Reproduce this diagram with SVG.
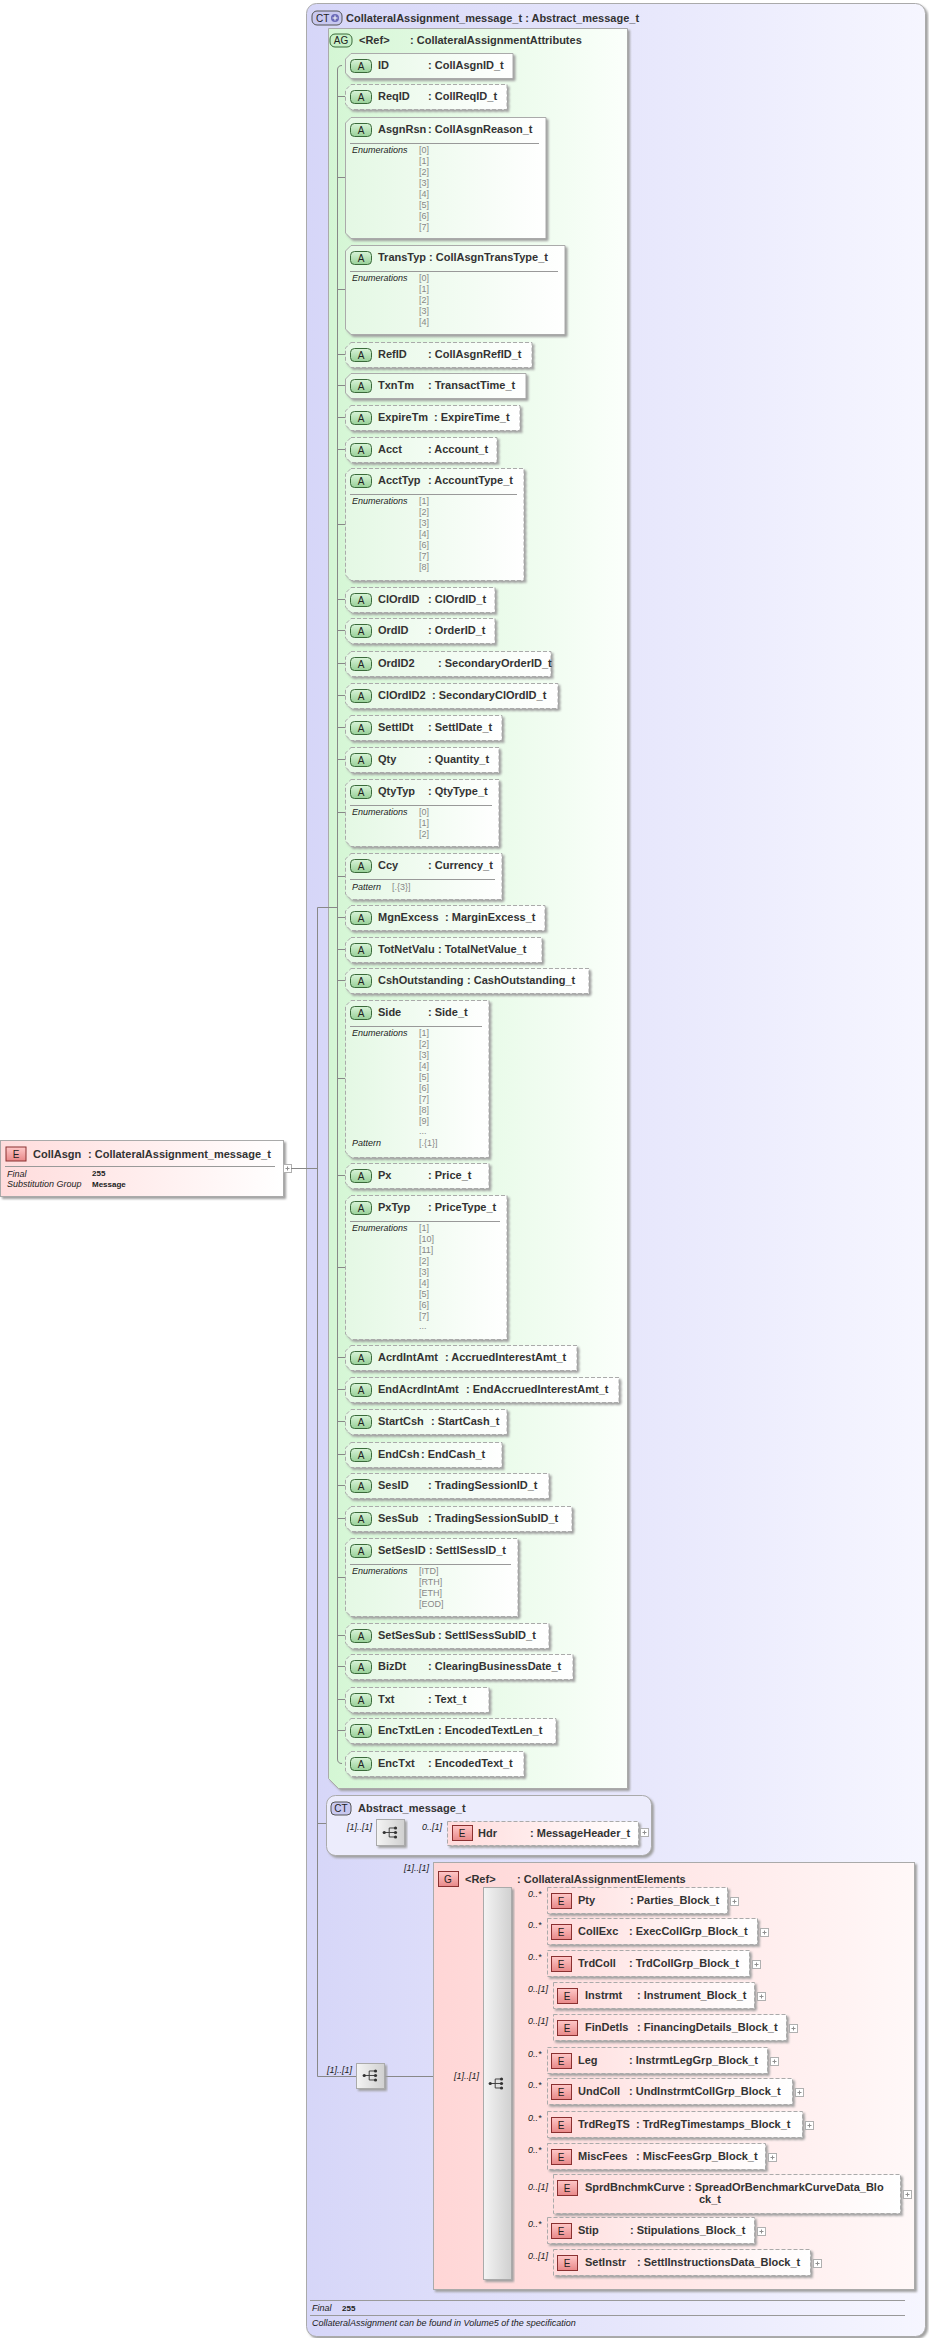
<svg xmlns="http://www.w3.org/2000/svg" width="929" height="2338" viewBox="0 0 929 2338">
<defs>
<linearGradient id="gCT" x1="0" x2="1" y1="0" y2="0"><stop offset="0" stop-color="#d6d6f8"/><stop offset="1" stop-color="#f6f6ff"/></linearGradient>
<linearGradient id="gAG" x1="0" x2="1" y1="0" y2="0"><stop offset="0" stop-color="#d4f6d4"/><stop offset="1" stop-color="#fbfffb"/></linearGradient>
<linearGradient id="gA" x1="0" x2="1" y1="0" y2="0"><stop offset="0" stop-color="#e4f8e4"/><stop offset="1" stop-color="#ffffff"/></linearGradient>
<linearGradient id="gG" x1="0" x2="1" y1="0" y2="0"><stop offset="0" stop-color="#ffd6d6"/><stop offset="1" stop-color="#fff8f8"/></linearGradient>
<linearGradient id="gE" x1="0" x2="1" y1="0" y2="0"><stop offset="0" stop-color="#ffdcdc"/><stop offset="1" stop-color="#ffffff"/></linearGradient>
<linearGradient id="gS" x1="0" x2="1" y1="0" y2="0"><stop offset="0" stop-color="#f4f4f4"/><stop offset="1" stop-color="#d0d0d0"/></linearGradient>
<linearGradient id="gBadgeA" x1="0" x2="0" y1="0" y2="1"><stop offset="0" stop-color="#d8f4d8"/><stop offset="1" stop-color="#98d098"/></linearGradient>
<linearGradient id="gBadgeE" x1="0" x2="0" y1="0" y2="1"><stop offset="0" stop-color="#ffc8c8"/><stop offset="1" stop-color="#e88888"/></linearGradient>
<filter id="ds" x="-5%" y="-5%" width="115%" height="130%"><feDropShadow dx="2" dy="2" stdDeviation="0.8" flood-color="#a0a0a0"/></filter>
<symbol id="seqIcon" viewBox="0 0 20 14"><path d="M2,7H8M8,2V12M8,2H14M8,7H14M8,12H14" stroke="#333" fill="none" stroke-width="1"/><circle cx="2.5" cy="7" r="1.8" fill="#333"/><circle cx="15" cy="2" r="1.8" fill="#333"/><circle cx="15" cy="7" r="1.8" fill="#333"/><circle cx="15" cy="12" r="1.8" fill="#333"/></symbol>
<g id="plus"><rect x="0" y="0" width="8" height="8" fill="#fff" stroke="#b0b0b0"/><path d="M2,4H6M4,2V6" stroke="#909090"/></g>
</defs>
<style>
text{font-family:"Liberation Sans",Arial,sans-serif;fill:#333}
.b{font-size:11px;font-weight:bold}
.bd{font-size:10px;font-weight:bold;fill:#444}
.it{font-size:9px;font-style:italic;fill:#222}
.val{font-size:9px;fill:#888}
.sm{font-size:8px;font-weight:bold;fill:#222}
.ab{fill:url(#gA);stroke:#aaa;filter:url(#ds)}
.ab.d{stroke-dasharray:4,2}
.eb{fill:url(#gE);stroke:#aaa;filter:url(#ds);stroke-dasharray:4,2}
.sep{stroke:#999;stroke-width:1}
.bA{fill:url(#gBadgeA);stroke:#3a6a3a}
.bE{fill:url(#gBadgeE);stroke:#8a3030}
.bT{font-size:10px;fill:#222;text-anchor:middle}
.cn{stroke:#888;fill:none;stroke-width:1}
.mult{font-size:9px;font-style:italic;fill:#222}
.seq{fill:url(#gS);stroke:#aaa;filter:url(#ds)}
</style>

<!-- outer complex type -->
<g id="ct-main">
<rect x="306.5" y="3.5" width="619" height="2333" rx="10" fill="url(#gCT)" stroke="#aaa" filter="url(#ds)"/>
<rect x="312" y="11" width="30" height="14" rx="5" fill="#c8c8f0" stroke="#555"/>
<text x="316" y="22" style="font-size:10px;fill:#222">CT</text>
<circle cx="335" cy="18" r="4" fill="#6a6ab8"/><path d="M332.5,18H337.5M335,15.5V20.5" stroke="#fff"/>
<text class="b" x="346" y="22">CollateralAssignment_message_t : Abstract_message_t</text>
<line x1="310" y1="2300.5" x2="905" y2="2300.5" class="sep"/>
<text class="it" x="312" y="2311">Final</text><text class="sm" x="342" y="2311">255</text>
<line x1="310" y1="2315.5" x2="905" y2="2315.5" class="sep"/>
<text class="it" x="312" y="2326">CollateralAssignment can be found in Volume5 of the specification</text>
</g>

<!-- root element -->
<g id="el-CollAsgn">
<rect x="0.5" y="1140.5" width="283" height="56" fill="url(#gE)" stroke="#aaa" filter="url(#ds)"/>
<rect x="6" y="1147" width="20" height="14" class="bE"/><text class="bT" x="16" y="1158">E</text>
<text class="b" x="33" y="1158">CollAsgn</text><text class="b" x="88" y="1158">: CollateralAssignment_message_t</text>
<line x1="5" y1="1166.5" x2="275" y2="1166.5" class="sep"/>
<text class="it" x="7" y="1177">Final</text><text class="sm" x="92" y="1176">255</text>
<text class="it" x="7" y="1187">Substitution Group</text><text class="sm" x="92" y="1187">Message</text>
<use href="#plus" x="283.5" y="1164.5"/>
</g>

<!-- attribute group -->
<g id="ag-attrs">
<path d="M328.5,28.5H627.5V1788.5H338.5L328.5,1778.5Z" fill="url(#gAG)" stroke="#aaa" filter="url(#ds)"/>
<rect x="330" y="34" width="22" height="13" rx="5" fill="#c8f0c8" stroke="#3a6a3a"/><text class="bT" x="341" y="44">AG</text>
<text class="b" x="359" y="44">&lt;Ref&gt;</text><text class="b" x="410" y="44">: CollateralAssignmentAttributes</text>
</g>

<!-- connectors -->
<g id="connectors" class="cn">
<path d="M291,1168.5H317.5"/>
<path d="M317.5,907.5V2076.5"/>
<path d="M317.5,907.5H337.5"/>
<path d="M317.5,1823.5H326"/>
<path d="M317.5,2076.5H356"/>
<path d="M342,65.5Q337.5,65.5 337.5,70V1759Q337.5,1763.5 342,1763.5"/>
<path d="M337.5,96.5H345M337.5,177.5H345M337.5,289.5H345M337.5,354.5H345M337.5,385.5H345M337.5,417.5H345M337.5,449.5H345M337.5,524.5H345M337.5,599.5H345M337.5,630.5H345M337.5,663.5H345M337.5,695.5H345M337.5,727.5H345M337.5,759.5H345M337.5,812.5H345M337.5,876.5H345M337.5,917.5H345M337.5,949.5H345M337.5,980.5H345M337.5,1078.5H345M337.5,1175.5H345M337.5,1267.5H345M337.5,1357.5H345M337.5,1389.5H345M337.5,1421.5H345M337.5,1454.5H345M337.5,1485.5H345M337.5,1518.5H345M337.5,1577.5H345M337.5,1635.5H345M337.5,1666.5H345M337.5,1699.5H345M337.5,1730.5H345"/>
<path d="M326,1833.5H376M405,1833.5H447"/>
<path d="M385,2076.5H433M433,2083.5H483"/>
<path d="M512,1900.5H547M512,1931.5H547M512,1963.5H547M512,1995.5H553M512,2027.5H553M512,2060.5H547M512,2091.5H547M512,2124.5H547M512,2156.5H547M512,2193.5H553M512,2230.5H547M512,2262.5H553"/>
</g>

<g id="attrs">
<g id="a-ID"><polygon class="ab" points="351,53.5 513,53.5 513,78.5 351,78.5 345.5,73 345.5,59"/><rect class="bA" x="350.5" y="59.5" width="21" height="13" rx="4"/><text class="bT" x="361" y="70">A</text><text class="b" x="378" y="69">ID</text><text class="b" x="428" y="69">: CollAsgnID_t</text></g>
<g id="a-ReqID"><polygon class="ab d" points="351,84.5 507,84.5 507,109.5 351,109.5 345.5,104 345.5,90"/><rect class="bA" x="350.5" y="90.5" width="21" height="13" rx="4"/><text class="bT" x="361" y="101">A</text><text class="b" x="378" y="100">ReqID</text><text class="b" x="428" y="100">: CollReqID_t</text></g>
<g id="a-AsgnRsn"><polygon class="ab" points="351,117.5 546,117.5 546,238.5 351,238.5 345.5,233 345.5,123"/><rect class="bA" x="350.5" y="123.5" width="21" height="13" rx="4"/><text class="bT" x="361" y="134">A</text><text class="b" x="378" y="133">AsgnRsn</text><text class="b" x="428" y="133">: CollAsgnReason_t</text><line class="sep" x1="350" y1="143.5" x2="539" y2="143.5"/><text class="it" x="352" y="153">Enumerations</text><text class="val" x="419" y="153">[0]</text><text class="val" x="419" y="164">[1]</text><text class="val" x="419" y="175">[2]</text><text class="val" x="419" y="186">[3]</text><text class="val" x="419" y="197">[4]</text><text class="val" x="419" y="208">[5]</text><text class="val" x="419" y="219">[6]</text><text class="val" x="419" y="230">[7]</text></g>
<g id="a-TransTyp"><polygon class="ab" points="351,245.5 565,245.5 565,334.5 351,334.5 345.5,329 345.5,251"/><rect class="bA" x="350.5" y="251.5" width="21" height="13" rx="4"/><text class="bT" x="361" y="262">A</text><text class="b" x="378" y="261">TransTyp</text><text class="b" x="429" y="261">: CollAsgnTransType_t</text><line class="sep" x1="350" y1="271.5" x2="558" y2="271.5"/><text class="it" x="352" y="281">Enumerations</text><text class="val" x="419" y="281">[0]</text><text class="val" x="419" y="292">[1]</text><text class="val" x="419" y="303">[2]</text><text class="val" x="419" y="314">[3]</text><text class="val" x="419" y="325">[4]</text></g>
<g id="a-RefID"><polygon class="ab d" points="351,342.5 532,342.5 532,367.5 351,367.5 345.5,362 345.5,348"/><rect class="bA" x="350.5" y="348.5" width="21" height="13" rx="4"/><text class="bT" x="361" y="359">A</text><text class="b" x="378" y="358">RefID</text><text class="b" x="428" y="358">: CollAsgnRefID_t</text></g>
<g id="a-TxnTm"><polygon class="ab" points="351,373.5 526,373.5 526,398.5 351,398.5 345.5,393 345.5,379"/><rect class="bA" x="350.5" y="379.5" width="21" height="13" rx="4"/><text class="bT" x="361" y="390">A</text><text class="b" x="378" y="389">TxnTm</text><text class="b" x="428" y="389">: TransactTime_t</text></g>
<g id="a-ExpireTm"><polygon class="ab d" points="351,405.5 520,405.5 520,430.5 351,430.5 345.5,425 345.5,411"/><rect class="bA" x="350.5" y="411.5" width="21" height="13" rx="4"/><text class="bT" x="361" y="422">A</text><text class="b" x="378" y="421">ExpireTm</text><text class="b" x="434" y="421">: ExpireTime_t</text></g>
<g id="a-Acct"><polygon class="ab d" points="351,437.5 497,437.5 497,462.5 351,462.5 345.5,457 345.5,443"/><rect class="bA" x="350.5" y="443.5" width="21" height="13" rx="4"/><text class="bT" x="361" y="454">A</text><text class="b" x="378" y="453">Acct</text><text class="b" x="428" y="453">: Account_t</text></g>
<g id="a-AcctTyp"><polygon class="ab d" points="351,468.5 524,468.5 524,580.5 351,580.5 345.5,575 345.5,474"/><rect class="bA" x="350.5" y="474.5" width="21" height="13" rx="4"/><text class="bT" x="361" y="485">A</text><text class="b" x="378" y="484">AcctTyp</text><text class="b" x="428" y="484">: AccountType_t</text><line class="sep" x1="350" y1="494.5" x2="517" y2="494.5"/><text class="it" x="352" y="504">Enumerations</text><text class="val" x="419" y="504">[1]</text><text class="val" x="419" y="515">[2]</text><text class="val" x="419" y="526">[3]</text><text class="val" x="419" y="537">[4]</text><text class="val" x="419" y="548">[6]</text><text class="val" x="419" y="559">[7]</text><text class="val" x="419" y="570">[8]</text></g>
<g id="a-ClOrdID"><polygon class="ab d" points="351,587.5 495,587.5 495,612.5 351,612.5 345.5,607 345.5,593"/><rect class="bA" x="350.5" y="593.5" width="21" height="13" rx="4"/><text class="bT" x="361" y="604">A</text><text class="b" x="378" y="603">ClOrdID</text><text class="b" x="428" y="603">: ClOrdID_t</text></g>
<g id="a-OrdID"><polygon class="ab d" points="351,618.5 495,618.5 495,643.5 351,643.5 345.5,638 345.5,624"/><rect class="bA" x="350.5" y="624.5" width="21" height="13" rx="4"/><text class="bT" x="361" y="635">A</text><text class="b" x="378" y="634">OrdID</text><text class="b" x="428" y="634">: OrderID_t</text></g>
<g id="a-OrdID2"><polygon class="ab d" points="351,651.5 551,651.5 551,676.5 351,676.5 345.5,671 345.5,657"/><rect class="bA" x="350.5" y="657.5" width="21" height="13" rx="4"/><text class="bT" x="361" y="668">A</text><text class="b" x="378" y="667">OrdID2</text><text class="b" x="438" y="667">: SecondaryOrderID_t</text></g>
<g id="a-ClOrdID2"><polygon class="ab d" points="351,683.5 558,683.5 558,708.5 351,708.5 345.5,703 345.5,689"/><rect class="bA" x="350.5" y="689.5" width="21" height="13" rx="4"/><text class="bT" x="361" y="700">A</text><text class="b" x="378" y="699">ClOrdID2</text><text class="b" x="432" y="699">: SecondaryClOrdID_t</text></g>
<g id="a-SettlDt"><polygon class="ab d" points="351,715.5 502,715.5 502,740.5 351,740.5 345.5,735 345.5,721"/><rect class="bA" x="350.5" y="721.5" width="21" height="13" rx="4"/><text class="bT" x="361" y="732">A</text><text class="b" x="378" y="731">SettlDt</text><text class="b" x="428" y="731">: SettlDate_t</text></g>
<g id="a-Qty"><polygon class="ab d" points="351,747.5 499,747.5 499,772.5 351,772.5 345.5,767 345.5,753"/><rect class="bA" x="350.5" y="753.5" width="21" height="13" rx="4"/><text class="bT" x="361" y="764">A</text><text class="b" x="378" y="763">Qty</text><text class="b" x="428" y="763">: Quantity_t</text></g>
<g id="a-QtyTyp"><polygon class="ab d" points="351,779.5 499,779.5 499,846.5 351,846.5 345.5,841 345.5,785"/><rect class="bA" x="350.5" y="785.5" width="21" height="13" rx="4"/><text class="bT" x="361" y="796">A</text><text class="b" x="378" y="795">QtyTyp</text><text class="b" x="428" y="795">: QtyType_t</text><line class="sep" x1="350" y1="805.5" x2="492" y2="805.5"/><text class="it" x="352" y="815">Enumerations</text><text class="val" x="419" y="815">[0]</text><text class="val" x="419" y="826">[1]</text><text class="val" x="419" y="837">[2]</text></g>
<g id="a-Ccy"><polygon class="ab d" points="351,853.5 502,853.5 502,899.5 351,899.5 345.5,894 345.5,859"/><rect class="bA" x="350.5" y="859.5" width="21" height="13" rx="4"/><text class="bT" x="361" y="870">A</text><text class="b" x="378" y="869">Ccy</text><text class="b" x="428" y="869">: Currency_t</text><line class="sep" x1="350" y1="879.5" x2="495" y2="879.5"/><text class="it" x="352" y="890">Pattern</text><text class="val" x="392" y="890">[.{3}]</text></g>
<g id="a-MgnExcess"><polygon class="ab d" points="351,905.5 545,905.5 545,930.5 351,930.5 345.5,925 345.5,911"/><rect class="bA" x="350.5" y="911.5" width="21" height="13" rx="4"/><text class="bT" x="361" y="922">A</text><text class="b" x="378" y="921">MgnExcess</text><text class="b" x="445" y="921">: MarginExcess_t</text></g>
<g id="a-TotNetValu"><polygon class="ab d" points="351,937.5 542,937.5 542,962.5 351,962.5 345.5,957 345.5,943"/><rect class="bA" x="350.5" y="943.5" width="21" height="13" rx="4"/><text class="bT" x="361" y="954">A</text><text class="b" x="378" y="953">TotNetValu</text><text class="b" x="438" y="953">: TotalNetValue_t</text></g>
<g id="a-CshOutstanding"><polygon class="ab d" points="351,968.5 589,968.5 589,993.5 351,993.5 345.5,988 345.5,974"/><rect class="bA" x="350.5" y="974.5" width="21" height="13" rx="4"/><text class="bT" x="361" y="985">A</text><text class="b" x="378" y="984">CshOutstanding</text><text class="b" x="467" y="984">: CashOutstanding_t</text></g>
<g id="a-Side"><polygon class="ab d" points="351,1000.5 489,1000.5 489,1157.5 351,1157.5 345.5,1152 345.5,1006"/><rect class="bA" x="350.5" y="1006.5" width="21" height="13" rx="4"/><text class="bT" x="361" y="1017">A</text><text class="b" x="378" y="1016">Side</text><text class="b" x="428" y="1016">: Side_t</text><line class="sep" x1="350" y1="1026.5" x2="482" y2="1026.5"/><text class="it" x="352" y="1036">Enumerations</text><text class="val" x="419" y="1036">[1]</text><text class="val" x="419" y="1047">[2]</text><text class="val" x="419" y="1058">[3]</text><text class="val" x="419" y="1069">[4]</text><text class="val" x="419" y="1080">[5]</text><text class="val" x="419" y="1091">[6]</text><text class="val" x="419" y="1102">[7]</text><text class="val" x="419" y="1113">[8]</text><text class="val" x="419" y="1124">[9]</text><text class="val" x="419" y="1134">...</text><text class="it" x="352" y="1146">Pattern</text><text class="val" x="419" y="1146">[.{1}]</text></g>
<g id="a-Px"><polygon class="ab d" points="351,1163.5 489,1163.5 489,1188.5 351,1188.5 345.5,1183 345.5,1169"/><rect class="bA" x="350.5" y="1169.5" width="21" height="13" rx="4"/><text class="bT" x="361" y="1180">A</text><text class="b" x="378" y="1179">Px</text><text class="b" x="428" y="1179">: Price_t</text></g>
<g id="a-PxTyp"><polygon class="ab d" points="351,1195.5 507,1195.5 507,1339.5 351,1339.5 345.5,1334 345.5,1201"/><rect class="bA" x="350.5" y="1201.5" width="21" height="13" rx="4"/><text class="bT" x="361" y="1212">A</text><text class="b" x="378" y="1211">PxTyp</text><text class="b" x="428" y="1211">: PriceType_t</text><line class="sep" x1="350" y1="1221.5" x2="500" y2="1221.5"/><text class="it" x="352" y="1231">Enumerations</text><text class="val" x="419" y="1231">[1]</text><text class="val" x="419" y="1242">[10]</text><text class="val" x="419" y="1253">[11]</text><text class="val" x="419" y="1264">[2]</text><text class="val" x="419" y="1275">[3]</text><text class="val" x="419" y="1286">[4]</text><text class="val" x="419" y="1297">[5]</text><text class="val" x="419" y="1308">[6]</text><text class="val" x="419" y="1319">[7]</text><text class="val" x="419" y="1329">...</text></g>
<g id="a-AcrdIntAmt"><polygon class="ab d" points="351,1345.5 577,1345.5 577,1370.5 351,1370.5 345.5,1365 345.5,1351"/><rect class="bA" x="350.5" y="1351.5" width="21" height="13" rx="4"/><text class="bT" x="361" y="1362">A</text><text class="b" x="378" y="1361">AcrdIntAmt</text><text class="b" x="445" y="1361">: AccruedInterestAmt_t</text></g>
<g id="a-EndAcrdIntAmt"><polygon class="ab d" points="351,1377.5 619,1377.5 619,1402.5 351,1402.5 345.5,1397 345.5,1383"/><rect class="bA" x="350.5" y="1383.5" width="21" height="13" rx="4"/><text class="bT" x="361" y="1394">A</text><text class="b" x="378" y="1393">EndAcrdIntAmt</text><text class="b" x="466" y="1393">: EndAccruedInterestAmt_t</text></g>
<g id="a-StartCsh"><polygon class="ab d" points="351,1409.5 507,1409.5 507,1434.5 351,1434.5 345.5,1429 345.5,1415"/><rect class="bA" x="350.5" y="1415.5" width="21" height="13" rx="4"/><text class="bT" x="361" y="1426">A</text><text class="b" x="378" y="1425">StartCsh</text><text class="b" x="431" y="1425">: StartCash_t</text></g>
<g id="a-EndCsh"><polygon class="ab d" points="351,1442.5 502,1442.5 502,1467.5 351,1467.5 345.5,1462 345.5,1448"/><rect class="bA" x="350.5" y="1448.5" width="21" height="13" rx="4"/><text class="bT" x="361" y="1459">A</text><text class="b" x="378" y="1458">EndCsh</text><text class="b" x="421" y="1458">: EndCash_t</text></g>
<g id="a-SesID"><polygon class="ab d" points="351,1473.5 549,1473.5 549,1498.5 351,1498.5 345.5,1493 345.5,1479"/><rect class="bA" x="350.5" y="1479.5" width="21" height="13" rx="4"/><text class="bT" x="361" y="1490">A</text><text class="b" x="378" y="1489">SesID</text><text class="b" x="428" y="1489">: TradingSessionID_t</text></g>
<g id="a-SesSub"><polygon class="ab d" points="351,1506.5 572,1506.5 572,1531.5 351,1531.5 345.5,1526 345.5,1512"/><rect class="bA" x="350.5" y="1512.5" width="21" height="13" rx="4"/><text class="bT" x="361" y="1523">A</text><text class="b" x="378" y="1522">SesSub</text><text class="b" x="428" y="1522">: TradingSessionSubID_t</text></g>
<g id="a-SetSesID"><polygon class="ab d" points="351,1538.5 518,1538.5 518,1616.5 351,1616.5 345.5,1611 345.5,1544"/><rect class="bA" x="350.5" y="1544.5" width="21" height="13" rx="4"/><text class="bT" x="361" y="1555">A</text><text class="b" x="378" y="1554">SetSesID</text><text class="b" x="429" y="1554">: SettlSessID_t</text><line class="sep" x1="350" y1="1564.5" x2="511" y2="1564.5"/><text class="it" x="352" y="1574">Enumerations</text><text class="val" x="419" y="1574">[ITD]</text><text class="val" x="419" y="1585">[RTH]</text><text class="val" x="419" y="1596">[ETH]</text><text class="val" x="419" y="1607">[EOD]</text></g>
<g id="a-SetSesSub"><polygon class="ab d" points="351,1623.5 549,1623.5 549,1648.5 351,1648.5 345.5,1643 345.5,1629"/><rect class="bA" x="350.5" y="1629.5" width="21" height="13" rx="4"/><text class="bT" x="361" y="1640">A</text><text class="b" x="378" y="1639">SetSesSub</text><text class="b" x="438" y="1639">: SettlSessSubID_t</text></g>
<g id="a-BizDt"><polygon class="ab d" points="351,1654.5 573,1654.5 573,1679.5 351,1679.5 345.5,1674 345.5,1660"/><rect class="bA" x="350.5" y="1660.5" width="21" height="13" rx="4"/><text class="bT" x="361" y="1671">A</text><text class="b" x="378" y="1670">BizDt</text><text class="b" x="428" y="1670">: ClearingBusinessDate_t</text></g>
<g id="a-Txt"><polygon class="ab d" points="351,1687.5 489,1687.5 489,1712.5 351,1712.5 345.5,1707 345.5,1693"/><rect class="bA" x="350.5" y="1693.5" width="21" height="13" rx="4"/><text class="bT" x="361" y="1704">A</text><text class="b" x="378" y="1703">Txt</text><text class="b" x="428" y="1703">: Text_t</text></g>
<g id="a-EncTxtLen"><polygon class="ab d" points="351,1718.5 556,1718.5 556,1743.5 351,1743.5 345.5,1738 345.5,1724"/><rect class="bA" x="350.5" y="1724.5" width="21" height="13" rx="4"/><text class="bT" x="361" y="1735">A</text><text class="b" x="378" y="1734">EncTxtLen</text><text class="b" x="438" y="1734">: EncodedTextLen_t</text></g>
<g id="a-EncTxt"><polygon class="ab d" points="351,1751.5 524,1751.5 524,1776.5 351,1776.5 345.5,1771 345.5,1757"/><rect class="bA" x="350.5" y="1757.5" width="21" height="13" rx="4"/><text class="bT" x="361" y="1768">A</text><text class="b" x="378" y="1767">EncTxt</text><text class="b" x="428" y="1767">: EncodedText_t</text></g>
</g>

<!-- Abstract_message_t -->
<g id="ct-abstract">
<rect x="326.5" y="1795.5" width="325" height="60" rx="9" fill="#ececfc" stroke="#aaa" filter="url(#ds)"/>
<rect x="331" y="1802" width="20" height="13" rx="4" fill="#c8c8f0" stroke="#555"/><text class="bT" x="341" y="1812">CT</text>
<text class="b" x="358" y="1812">Abstract_message_t</text>
<text class="mult" x="347" y="1830">[1]..[1]</text>
<rect class="seq" x="376.5" y="1819.5" width="28" height="26"/><use href="#seqIcon" x="382" y="1826" width="18" height="13"/>
<text class="mult" x="422" y="1830">0..[1]</text>
</g>
<g id="e-Hdr"><rect class="eb" x="447.5" y="1821.5" width="191" height="24"/><rect class="bE" x="452.5" y="1825.5" width="20" height="15"/><text class="bT" x="462" y="1837">E</text><text class="b" x="478" y="1837">Hdr</text><text class="b" x="530" y="1837">: MessageHeader_t</text><use href="#plus" x="640.5" y="1828.5"/></g>

<!-- outer sequence -->
<g id="seq-outer">
<text class="mult" x="327" y="2073">[1]..[1]</text>
<rect class="seq" x="356.5" y="2063.5" width="28" height="25"/><use href="#seqIcon" x="362" y="2069" width="18" height="13"/>
</g>

<!-- element group -->
<g id="g-elements">
<rect x="433.5" y="1862.5" width="481" height="427" fill="url(#gG)" stroke="#aaa" filter="url(#ds)"/>
<text class="mult" x="404" y="1871">[1]..[1]</text>
<rect class="bE" x="438.5" y="1871.5" width="20" height="15"/><text class="bT" x="448" y="1883">G</text>
<text class="b" x="465" y="1883">&lt;Ref&gt;</text><text class="b" x="517" y="1883">: CollateralAssignmentElements</text>
<text class="mult" x="454" y="2079">[1]..[1]</text>
<rect class="seq" x="483.5" y="1887.5" width="28" height="392"/><use href="#seqIcon" x="488" y="2077" width="18" height="13"/>
</g>

<g id="elements">
<g id="e-Pty"><text class="mult" x="528" y="1897">0..*</text><rect class="eb" x="547.5" y="1887.5" width="180" height="26"/><rect class="bE" x="551.5" y="1893.5" width="20" height="15"/><text class="bT" x="561" y="1905">E</text><text class="b" x="578" y="1904">Pty</text><text class="b" x="630" y="1904">: Parties_Block_t</text><use href="#plus" x="730.5" y="1897.5"/></g>
<g id="e-CollExc"><text class="mult" x="528" y="1928">0..*</text><rect class="eb" x="547.5" y="1918.5" width="210" height="26"/><rect class="bE" x="551.5" y="1924.5" width="20" height="15"/><text class="bT" x="561" y="1936">E</text><text class="b" x="578" y="1935">CollExc</text><text class="b" x="629" y="1935">: ExecCollGrp_Block_t</text><use href="#plus" x="760.5" y="1928.5"/></g>
<g id="e-TrdColl"><text class="mult" x="528" y="1960">0..*</text><rect class="eb" x="547.5" y="1950.5" width="202" height="26"/><rect class="bE" x="551.5" y="1956.5" width="20" height="15"/><text class="bT" x="561" y="1968">E</text><text class="b" x="578" y="1967">TrdColl</text><text class="b" x="629" y="1967">: TrdCollGrp_Block_t</text><use href="#plus" x="752.5" y="1960.5"/></g>
<g id="e-Instrmt"><text class="mult" x="528" y="1992">0..[1]</text><rect class="eb" x="553.5" y="1982.5" width="201" height="26"/><rect class="bE" x="557.5" y="1988.5" width="20" height="15"/><text class="bT" x="567" y="2000">E</text><text class="b" x="585" y="1999">Instrmt</text><text class="b" x="637" y="1999">: Instrument_Block_t</text><use href="#plus" x="757.5" y="1992.5"/></g>
<g id="e-FinDetls"><text class="mult" x="528" y="2024">0..[1]</text><rect class="eb" x="553.5" y="2014.5" width="233" height="26"/><rect class="bE" x="557.5" y="2020.5" width="20" height="15"/><text class="bT" x="567" y="2032">E</text><text class="b" x="585" y="2031">FinDetls</text><text class="b" x="637" y="2031">: FinancingDetails_Block_t</text><use href="#plus" x="789.5" y="2024.5"/></g>
<g id="e-Leg"><text class="mult" x="528" y="2057">0..*</text><rect class="eb" x="547.5" y="2047.5" width="220" height="26"/><rect class="bE" x="551.5" y="2053.5" width="20" height="15"/><text class="bT" x="561" y="2065">E</text><text class="b" x="578" y="2064">Leg</text><text class="b" x="629" y="2064">: InstrmtLegGrp_Block_t</text><use href="#plus" x="770.5" y="2057.5"/></g>
<g id="e-UndColl"><text class="mult" x="528" y="2088">0..*</text><rect class="eb" x="547.5" y="2078.5" width="245" height="26"/><rect class="bE" x="551.5" y="2084.5" width="20" height="15"/><text class="bT" x="561" y="2096">E</text><text class="b" x="578" y="2095">UndColl</text><text class="b" x="629" y="2095">: UndInstrmtCollGrp_Block_t</text><use href="#plus" x="795.5" y="2088.5"/></g>
<g id="e-TrdRegTS"><text class="mult" x="528" y="2121">0..*</text><rect class="eb" x="547.5" y="2111.5" width="255" height="26"/><rect class="bE" x="551.5" y="2117.5" width="20" height="15"/><text class="bT" x="561" y="2129">E</text><text class="b" x="578" y="2128">TrdRegTS</text><text class="b" x="636" y="2128">: TrdRegTimestamps_Block_t</text><use href="#plus" x="805.5" y="2121.5"/></g>
<g id="e-MiscFees"><text class="mult" x="528" y="2153">0..*</text><rect class="eb" x="547.5" y="2143.5" width="218" height="26"/><rect class="bE" x="551.5" y="2149.5" width="20" height="15"/><text class="bT" x="561" y="2161">E</text><text class="b" x="578" y="2160">MiscFees</text><text class="b" x="636" y="2160">: MiscFeesGrp_Block_t</text><use href="#plus" x="768.5" y="2153.5"/></g>
<g id="e-SprdBnchmkCurve"><text class="mult" x="528" y="2190">0..[1]</text><rect class="eb" x="553.5" y="2174.5" width="347" height="39"/><rect class="bE" x="557.5" y="2180.5" width="20" height="15"/><text class="bT" x="567" y="2192">E</text><text class="b" x="585" y="2191">SprdBnchmkCurve</text><text class="b" x="688" y="2191">: SpreadOrBenchmarkCurveData_Blo</text><text class="b" x="699" y="2203">ck_t</text><use href="#plus" x="903.5" y="2190.5"/></g>
<g id="e-Stip"><text class="mult" x="528" y="2227">0..*</text><rect class="eb" x="547.5" y="2217.5" width="207" height="26"/><rect class="bE" x="551.5" y="2223.5" width="20" height="15"/><text class="bT" x="561" y="2235">E</text><text class="b" x="578" y="2234">Stip</text><text class="b" x="630" y="2234">: Stipulations_Block_t</text><use href="#plus" x="757.5" y="2227.5"/></g>
<g id="e-SetInstr"><text class="mult" x="528" y="2259">0..[1]</text><rect class="eb" x="553.5" y="2249.5" width="257" height="26"/><rect class="bE" x="557.5" y="2255.5" width="20" height="15"/><text class="bT" x="567" y="2267">E</text><text class="b" x="585" y="2266">SetInstr</text><text class="b" x="637" y="2266">: SettlInstructionsData_Block_t</text><use href="#plus" x="813.5" y="2259.5"/></g>
</g>
</svg>
